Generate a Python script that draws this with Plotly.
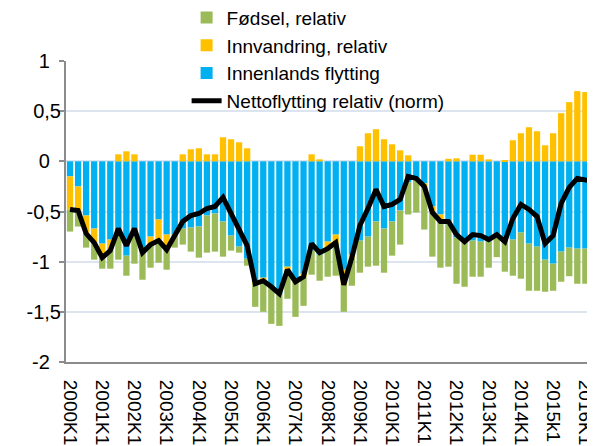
import plotly.graph_objects as go

# Categories (quarters 2000K1 .. 2016K2)
quarters = [f"{y}K{q}" for y in range(2000, 2017) for q in range(1, 5)][:66]

innenlands = [-0.15, -0.25, -0.54, -0.67, -0.82, -0.78, -0.74, -0.94, -0.74, -0.91,
              -0.75, -0.58, -0.73, -0.73, -0.67, -0.66, -0.65, -0.54, -0.52, -0.60,
              -0.74, -0.85, -0.97, -1.21, -1.16, -1.25, -1.32, -1.05, -1.17, -1.12,
              -0.89, -0.93, -0.80, -0.73, -1.08, -0.93, -0.79, -0.75, -0.60, -0.67,
              -0.60, -0.49, -0.21, -0.17, -0.22, -0.45, -0.53, -0.63, -0.76, -0.80,
              -0.79, -0.80, -0.80, -0.73, -0.81, -0.78, -0.71, -0.82, -0.85, -0.98,
              -1.02, -0.90, -0.86, -0.87, -0.87, -0.89]

innvandring = [-0.33, -0.24, -0.18, -0.14, -0.14, -0.11, 0.07, 0.10, 0.07, 0.0,
               -0.08, -0.21, -0.15, -0.01, 0.07, 0.12, 0.13, 0.07, 0.07, 0.24,
               0.22, 0.19, 0.13, -0.01, -0.03, 0.0, 0.0, -0.03, -0.03, -0.03,
               0.07, 0.02, -0.07, -0.08, -0.15, -0.03, 0.15, 0.28, 0.32, 0.22,
               0.17, 0.11, 0.06, 0.0, -0.03, -0.06, -0.07, 0.025, 0.03, 0.0,
               0.066, 0.066, 0.02, 0.0, 0.005, 0.21, 0.28, 0.34, 0.30, 0.16,
               0.28, 0.48, 0.59, 0.70, 0.69, 0.69]

fodsel = [-0.22, -0.16, -0.14, -0.17, -0.11, -0.18, -0.24, -0.20, -0.28, -0.27,
          -0.23, -0.22, -0.20, -0.12, -0.16, -0.24, -0.31, -0.37, -0.38, -0.35,
          -0.15, -0.06, -0.07, -0.23, -0.31, -0.37, -0.32, -0.29, -0.35, -0.29,
          -0.24, -0.26, -0.28, -0.33, -0.27, -0.28, -0.32, -0.30, -0.44, -0.44,
          -0.34, -0.34, -0.32, -0.34, -0.43, -0.44, -0.46, -0.42, -0.46, -0.45,
          -0.36, -0.35, -0.26, -0.225, -0.29, -0.36, -0.46, -0.47, -0.44, -0.32,
          -0.27, -0.30, -0.285, -0.35, -0.35, -0.39]

netto = [-0.48, -0.49, -0.72, -0.81, -0.96, -0.89, -0.67, -0.84, -0.67, -0.91,
         -0.83, -0.79, -0.88, -0.74, -0.60, -0.54, -0.52, -0.47, -0.45, -0.36,
         -0.52, -0.66, -0.84, -1.22, -1.19, -1.25, -1.32, -1.08, -1.20, -1.15,
         -0.82, -0.91, -0.87, -0.81, -1.23, -0.96, -0.64, -0.47, -0.28, -0.45,
         -0.43, -0.38, -0.15, -0.17, -0.25, -0.51, -0.60, -0.60, -0.73, -0.80,
         -0.73, -0.74, -0.78, -0.73, -0.80, -0.57, -0.43, -0.48, -0.55, -0.82,
         -0.74, -0.42, -0.26, -0.17, -0.18, -0.20]

x_tick_vals = ["2000K1", "2001K1", "2002K1", "2003K1", "2004K1", "2005K1", "2006K1",
               "2007K1", "2008K1", "2009K1", "2010K1", "2011K1", "2012K1", "2013K1",
               "2014K1", "2015K1", "2016K1"]
x_tick_text = ["2000K1", "2001K1", "2002K1", "2003K1", "2004K1", "2005K1", "2006K1",
               "2007K1", "2008K1", "2009K1", "2010K1", "2011K1", "2012K1", "2013K1",
               "2014K1", "2015k1", "2016K1"]
y_tick_vals = [1, 0.5, 0, -0.5, -1, -1.5, -2]
NB = "\u00a0\u00a0"  # keeps whole-number labels centred like the decimals
y_tick_text = ["1" + NB, "0,5", "0" + NB, "-0,5", "-1" + NB, "-1,5", "-2" + NB]

FONT = "Liberation Sans, Arial, sans-serif"

fig = go.Figure()
fig.add_trace(go.Bar(name="Innenlands flytting", x=quarters, y=innenlands,
                     marker=dict(color="#00B0F0", line=dict(width=0)), legendrank=3))
fig.add_trace(go.Bar(name="Innvandring, relativ", x=quarters, y=innvandring,
                     marker=dict(color="#FFC000", line=dict(width=0)), legendrank=2))
fig.add_trace(go.Bar(name="Fødsel, relativ", x=quarters, y=fodsel,
                     marker=dict(color="#9BBB59", line=dict(width=0)), legendrank=1))
fig.add_trace(go.Scatter(name="Nettoflytting relativ (norm)", x=quarters, y=netto,
                         mode="lines", line=dict(color="black", width=5), legendrank=4))

fig.update_layout(
    width=595, height=446,
    margin=dict(l=58, r=8, t=53, b=92, autoexpand=False),
    barmode="relative",
    bargap=0.22,
    paper_bgcolor="white",
    plot_bgcolor="white",
    font=dict(family=FONT, size=19, color="black"),
    showlegend=True,
    legend=dict(x=0.228, y=1.207, xanchor="left", yanchor="top",
                bgcolor="rgba(0,0,0,0)", font=dict(size=19, family=FONT),
                tracegroupgap=0),
    xaxis=dict(type="category", range=[-0.5, 65.2], tickmode="array",
               tickvals=x_tick_vals, ticktext=x_tick_text, tickangle=90,
               showgrid=False, showline=True, linecolor="#8C8C8C", linewidth=2,
               ticks="", ticklabelstandoff=12, automargin=False,
               tickfont=dict(size=19, family=FONT)),
    yaxis=dict(range=[-2, 1], tickmode="array", tickvals=y_tick_vals,
               ticktext=y_tick_text, showgrid=True, gridcolor="#DCE4EF", gridwidth=2,
               zeroline=False, showline=True, linecolor="#8C8C8C", linewidth=2,
               ticks="outside", ticklen=5, tickcolor="#8C8C8C", tickwidth=2,
               ticklabelstandoff=-6, automargin=False,
               tickfont=dict(size=20, family=FONT)),
)

fig.write_html("out.html")
